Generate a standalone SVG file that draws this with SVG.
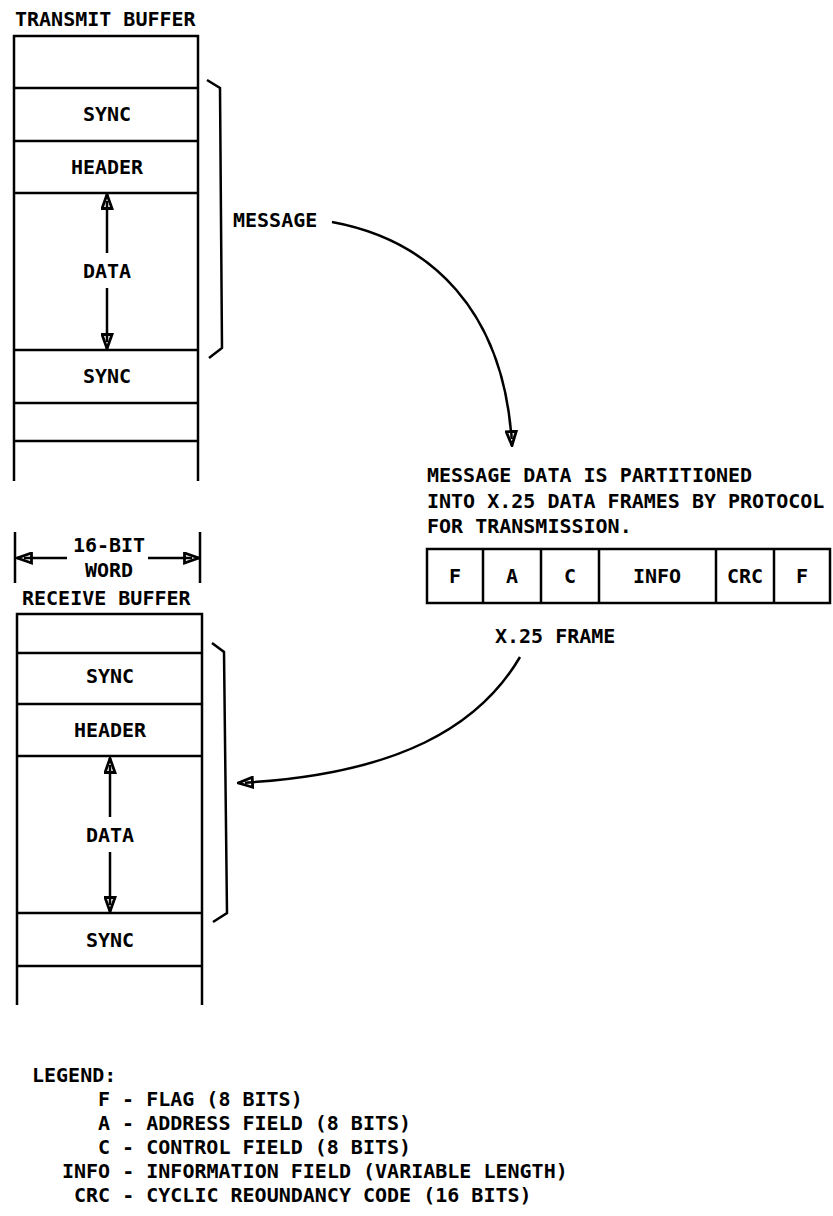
<svg xmlns="http://www.w3.org/2000/svg" width="833" height="1216" viewBox="0 0 833 1216">
<style>
text{font-family:"DejaVu Sans Mono","Liberation Mono",monospace;font-size:20px;font-weight:bold;fill:#000}
.c{text-anchor:middle}
.ln{stroke:#000;stroke-width:2.5;fill:none}
.bx{stroke:#000;stroke-width:2.5;fill:#fff}
</style>
<defs>
<marker id="ah" viewBox="0 0 17 13" refX="16" refY="6.5" markerWidth="17" markerHeight="13" markerUnits="userSpaceOnUse" orient="auto">
<path d="M1.5,1.5 L15.5,6.5 L1.5,11.5 Z" fill="#fff" stroke="#000" stroke-width="2.8" stroke-linejoin="miter"/>
<path d="M1.5,6.5 L9,6.5" stroke="#000" stroke-width="2.5"/>
</marker>
</defs>
<rect width="833" height="1216" fill="#fff"/>

<g id="transmit-buffer">
<text x="15" y="26">TRANSMIT BUFFER</text>
<path class="ln" d="M14,481 V36 H198 V481 M14,88 H198 M14,141 H198 M14,193 H198 M14,350 H198 M14,403 H198 M14,441 H198"/>
<text class="c" x="107" y="121">SYNC</text>
<text class="c" x="107" y="174">HEADER</text>
<text class="c" x="107" y="278">DATA</text>
<text class="c" x="107" y="383">SYNC</text>
<line class="ln" x1="107" y1="253" x2="107" y2="194" marker-end="url(#ah)"/>
<line class="ln" x1="107" y1="288" x2="107" y2="349" marker-end="url(#ah)"/>
<path class="ln" d="M207,80 L220,88 L222,348 L209,358"/>
<text x="233" y="227">MESSAGE</text>
</g>

<g id="word-width">
<path class="ln" d="M15,532 V583 M200,532 V583"/>
<line class="ln" x1="67" y1="558" x2="17" y2="558" marker-end="url(#ah)"/>
<line class="ln" x1="148" y1="558" x2="199" y2="558" marker-end="url(#ah)"/>
<text class="c" x="109" y="552">16-BIT</text>
<text class="c" x="109" y="577">WORD</text>
</g>

<g id="receive-buffer">
<text x="22" y="605">RECEIVE BUFFER</text>
<path class="ln" d="M17,1005 V614 H202 V1005 M17,653 H202 M17,704 H202 M17,756 H202 M17,913 H202 M17,966 H202"/>
<text class="c" x="110" y="683">SYNC</text>
<text class="c" x="110" y="737">HEADER</text>
<text class="c" x="110" y="842">DATA</text>
<text class="c" x="110" y="947">SYNC</text>
<line class="ln" x1="110" y1="817" x2="110" y2="758" marker-end="url(#ah)"/>
<line class="ln" x1="110" y1="852" x2="110" y2="912" marker-end="url(#ah)"/>
<path class="ln" d="M212,643 L224,652 L227,913 L213,922"/>
</g>

<g id="x25-frame">
<text x="427" y="482">MESSAGE DATA IS PARTITIONED</text>
<text x="427" y="508">INTO X.25 DATA FRAMES BY PROTOCOL</text>
<text x="427" y="533">FOR TRANSMISSION.</text>
<rect class="bx" x="427" y="549" width="403" height="54"/>
<path class="ln" d="M483,549 V603 M541,549 V603 M599,549 V603 M716,549 V603 M774,549 V603"/>
<text class="c" x="455" y="583">F</text>
<text class="c" x="512" y="583">A</text>
<text class="c" x="570" y="583">C</text>
<text class="c" x="657" y="583">INFO</text>
<text class="c" x="745" y="583">CRC</text>
<text class="c" x="802" y="583">F</text>
<text x="495" y="643">X.25 FRAME</text>
</g>

<g id="connectors">
<path class="ln" d="M332,222 C430,240 505,310 512,446" marker-end="url(#ah)"/>
<path class="ln" d="M520,657 C480,725 400,775 238,783" marker-end="url(#ah)"/>
</g>

<g id="legend">
<text x="32" y="1082">LEGEND:</text>
<text x="98" y="1106">F - FLAG (8 BITS)</text>
<text x="98" y="1130">A - ADDRESS FIELD (8 BITS)</text>
<text x="98" y="1154">C - CONTROL FIELD (8 BITS)</text>
<text x="62" y="1178">INFO - INFORMATION FIELD (VARIABLE LENGTH)</text>
<text x="74" y="1202">CRC - CYCLIC REOUNDANCY CODE (16 BITS)</text>
</g>
</svg>
